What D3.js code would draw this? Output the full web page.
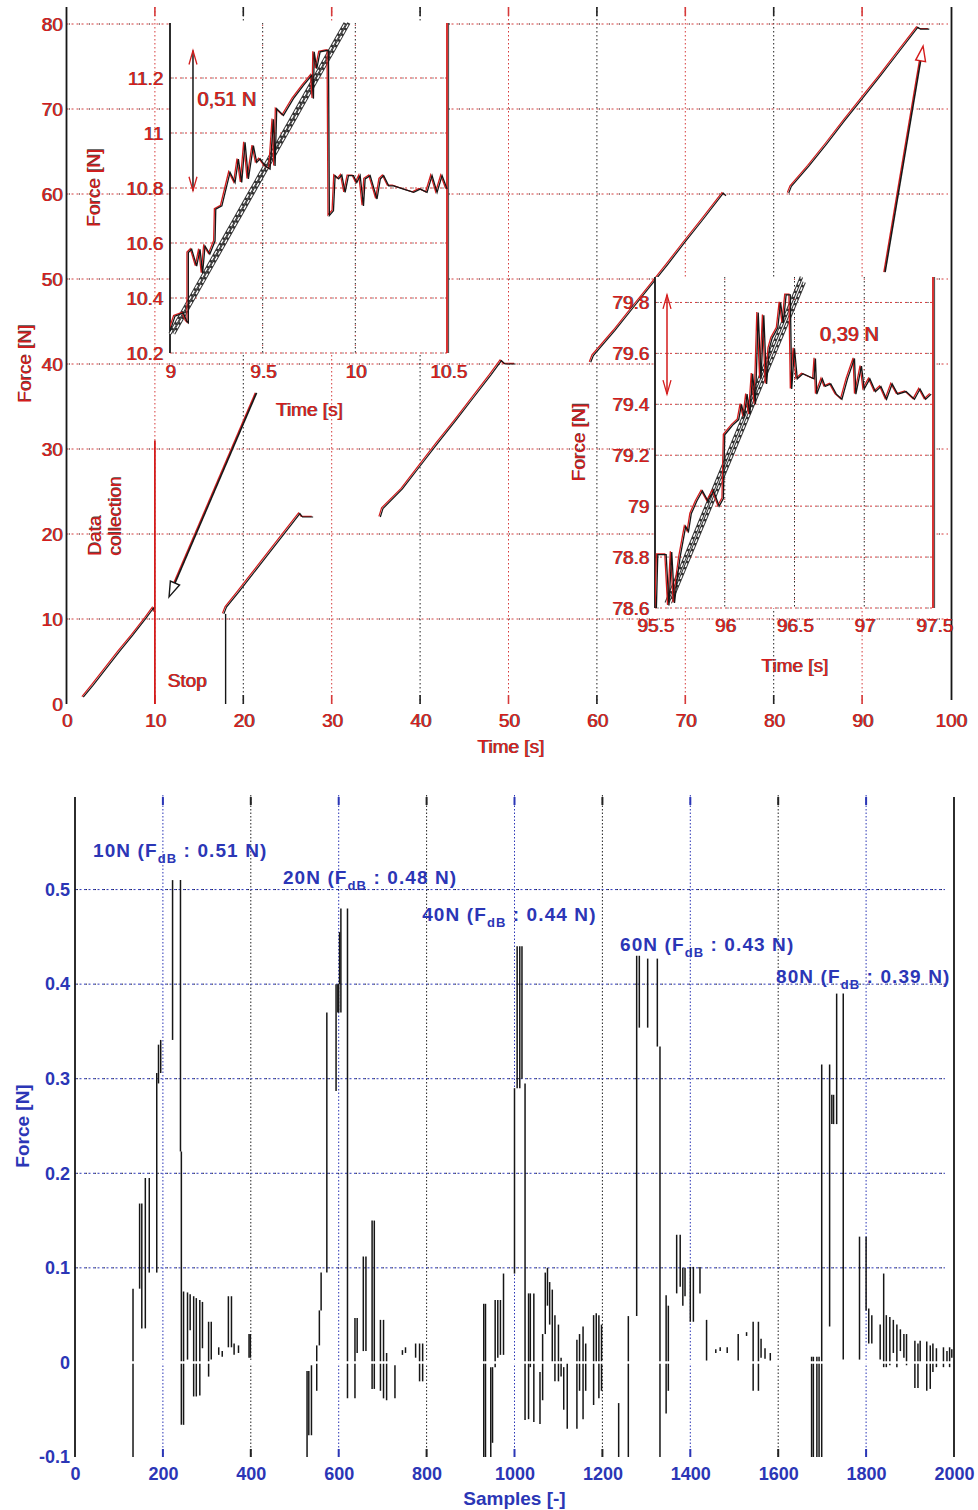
<!DOCTYPE html>
<html>
<head>
<meta charset="utf-8">
<script src="https://cdn.jsdelivr.net/npm/d3@7/dist/d3.min.js"></script>
<style>
  html, body { margin: 0; padding: 0; background: #fff; }
  svg text { font-family: "Liberation Sans", Arial, Helvetica, sans-serif; }
</style>
</head>
<body>
<svg id="fig" width="978" height="1510" xmlns="http://www.w3.org/2000/svg"></svg>
<script>
// ================= data: force ramps over time (upper panel) =================
const mainTimeTicks  = [0, 10, 20, 30, 40, 50, 60, 70, 80, 90, 100];
const mainForceTicks = [0, 10, 20, 30, 40, 50, 60, 70, 80];

const ramp10Time  = [1.9, 3.0, 4.5, 6.0, 7.5, 9.0, 9.85, 10.0];
const ramp10Force = [0.8, 2.2, 4.2, 6.2, 8.1, 10.1, 11.3, 10.8];
const ramp20Time  = [17.8, 18.1, 19.5, 21.0, 22.5, 24.0, 25.5, 26.4, 26.7, 27.9];
const ramp20Force = [10.6, 11.4, 13.2, 15.2, 17.2, 19.2, 21.2, 22.4, 22.0, 22.0];
const ramp40Time  = [35.5, 35.8, 38.0, 40.0, 42.0, 44.0, 46.0, 48.0, 49.2, 49.6, 50.8];
const ramp40Force = [22.0, 23.0, 25.3, 28.0, 30.7, 33.3, 36.0, 38.7, 40.4, 40.0, 40.0];
const ramp60Time  = [59.3, 59.6, 62.0, 64.0, 66.0, 68.0, 70.0, 72.0, 74.3, 74.6];
const ramp60Force = [40.2, 41.0, 43.9, 46.5, 49.1, 51.7, 54.4, 57.0, 60.1, 59.8];
const ramp80Time  = [81.7, 82.0, 84.0, 86.0, 88.0, 90.0, 92.0, 94.0, 96.3, 96.6, 97.6];
const ramp80Force = [60.1, 60.9, 63.3, 65.9, 68.6, 71.2, 73.8, 76.5, 79.6, 79.4, 79.4];

// zoomed 10 N step (t = 9 ... 10.5 s)
const zoom10TimeTicks  = [9, 9.5, 10, 10.5];
const zoom10ForceTicks = [10.2, 10.4, 10.6, 10.8, 11, 11.2];
const zoom10Time = [9.000, 9.018, 9.027, 9.072, 9.090, 9.099, 9.099, 9.117, 9.144, 9.162, 9.176, 9.189, 9.215,
  9.243, 9.247, 9.280, 9.324, 9.351, 9.369, 9.387, 9.405, 9.423, 9.450, 9.468, 9.486, 9.513, 9.540, 9.558, 9.567,
  9.576, 9.612, 9.666, 9.720, 9.765, 9.774, 9.778, 9.792, 9.810, 9.846, 9.855, 9.860, 9.882, 9.891, 9.910, 9.927,
  9.945, 9.963, 9.990, 10.008, 10.026, 10.044, 10.053, 10.080, 10.117, 10.135, 10.153, 10.180, 10.207, 10.260,
  10.315, 10.350, 10.387, 10.414, 10.441, 10.468, 10.495];
const zoom10Force = [10.280, 10.316, 10.334, 10.346, 10.316, 10.310, 10.565, 10.577, 10.516, 10.577, 10.490, 10.589, 10.560,
  10.607, 10.723, 10.735, 10.857, 10.820, 10.905, 10.820, 10.966, 10.833, 10.954, 10.893, 10.906, 10.881, 10.869, 11.050, 10.880,
  11.088, 11.064, 11.125, 11.173, 11.210, 11.125, 11.295, 11.234, 11.295, 11.300, 11.300, 10.700, 10.717, 10.845, 10.833, 10.847,
  10.784, 10.845, 10.845, 10.820, 10.845, 10.735, 10.833, 10.845, 10.760, 10.833, 10.845, 10.808, 10.808, 10.796,
  10.784, 10.796, 10.784, 10.845, 10.784, 10.845, 10.796];
const fit10Time   = [9.00, 9.945];
const fit10ForceA = [10.27, 11.40];
const fit10TimeB  = [9.02, 9.965];
const fit10ForceB = [10.27, 11.40];
const band10 = [10.79, 11.30];   // 0,51 N

// zoomed 80 N step (t = 95.5 ... 97.5 s)
const zoom80TimeTicks  = [95.5, 96, 96.5, 97, 97.5];
const zoom80ForceTicks = [78.6, 78.8, 79, 79.2, 79.4, 79.6, 79.8];
const zoom80Time = [95.51, 95.52, 95.58, 95.60, 95.62, 95.64, 95.66, 95.68, 95.70, 95.72, 95.74, 95.76, 95.80, 95.84,
  95.88, 95.92, 95.96, 95.99, 96.00, 96.03, 96.06, 96.10, 96.12, 96.14, 96.16, 96.18, 96.20, 96.22, 96.24, 96.26,
  96.28, 96.30, 96.32, 96.34, 96.38, 96.40, 96.42, 96.44, 96.47, 96.48, 96.50, 96.52, 96.56, 96.64, 96.65, 96.66,
  96.70, 96.72, 96.76, 96.80, 96.84, 96.88, 96.93, 96.94, 96.98, 97.00, 97.04, 97.08, 97.12, 97.16, 97.20, 97.24,
  97.30, 97.36, 97.40, 97.44, 97.48];
const zoom80Force = [78.60, 78.81, 78.81, 78.61, 78.82, 78.62, 78.72, 78.80, 78.86, 78.92, 78.90, 78.97, 79.02, 79.06,
  79.02, 79.06, 79.00, 79.03, 79.28, 79.30, 79.32, 79.34, 79.40, 79.35, 79.44, 79.36, 79.52, 79.40, 79.76, 79.50,
  79.75, 79.48, 79.62, 79.66, 79.70, 79.80, 79.72, 79.83, 79.83, 79.46, 79.62, 79.50, 79.52, 79.50, 79.58, 79.44,
  79.50, 79.47, 79.48, 79.44, 79.42, 79.50, 79.58, 79.44, 79.55, 79.46, 79.50, 79.45, 79.47, 79.42, 79.48, 79.44,
  79.45, 79.42, 79.46, 79.42, 79.44];
const fit80Time   = [95.58, 96.55];
const fit80ForceA = [78.62, 79.90];
const fit80TimeB  = [95.61, 96.57];
const fit80ForceB = [78.62, 79.88];
const band80 = [79.44, 79.83];   // 0,39 N

// ================= data: deviation per sample (lower panel) =================
const sampleTicks    = [0, 200, 400, 600, 800, 1000, 1200, 1400, 1600, 1800, 2000];
const deviationTicks = [-0.1, 0, 0.1, 0.2, 0.3, 0.4, 0.5];
const deadbandLoads  = ["10N", "20N", "40N", "60N", "80N"];
const deadbandWidths = [0.51, 0.48, 0.44, 0.43, 0.39];

// each entry: [sample, low, high]
const strokes10N = [[132,-0.13,0.078],[147,0.078,0.168],[152,0.036,0.168],[160,0.036,0.195],[169,0.095,0.195],
  [186,0.095,0.306],[190,0.295,0.336],[195,0.306,0.341],[222,0.341,0.51],[240,0.223,0.51],[242,-0.066,0.223],
  [247,-0.066,0.075],[256,0.003,0.074],[262,0.034,0.072],[270,-0.036,0.070],[276,-0.036,0.068],[284,-0.035,0.066],
  [290,0.015,0.064],[304,-0.015,0.043],[310,0.003,0.043],[327,0.008,0.016],[335,0.006,0.012],[349,0.016,0.070],
  [356,0.016,0.070],[362,0.008,0.020],[372,0.010,0.018],[396,0.005,0.030],[399,0.005,0.030]];
const strokes20N = [[528,-0.13,-0.009],[532,-0.077,-0.009],[538,-0.077,-0.003],[550,-0.030,0.018],[556,0.018,0.055],
  [560,0.055,0.095],[573,0.095,0.370],[594,0.287,0.400],[598,0.370,0.400],[600,0.370,0.400],[602,0.400,0.455],
  [605,0.370,0.48],[620,-0.038,0.48],[637,-0.038,0.047],[642,0.010,0.047],[656,0.012,0.112],[662,0.012,0.112],
  [676,-0.028,0.150],[681,-0.028,0.150],[695,-0.030,0.045],[702,-0.038,0.045],[709,-0.040,0.010],[728,-0.038,-0.003],
  [745,0.008,0.013],[752,0.010,0.016],[775,0.005,0.020],[784,-0.020,0.020],[791,-0.020,0.020]];
const strokes40N = [[930,-0.13,0.062],[934,-0.13,0.062],[946,-0.13,-0.005],[950,-0.085,-0.005],[956,-0.005,0.066],
  [962,0.005,0.066],[968,0.008,0.066],[975,0.008,0.094],[1000,0.094,0.290],[1006,0.290,0.44],[1012,0.290,0.44],
  [1017,0.300,0.44],[1024,-0.061,0.295],[1032,-0.060,0.073],[1036,-0.005,0.073],[1044,-0.063,0.073],
  [1058,-0.065,-0.010],[1064,-0.040,0.030],[1070,0.030,0.095],[1075,0.060,0.100],[1080,0.040,0.085],
  [1086,0.000,0.077],[1092,-0.020,0.050],[1100,-0.020,0.040],[1106,-0.015,0.005],[1112,-0.050,-0.005],
  [1120,-0.070,0.000],[1142,-0.070,0.024],[1148,-0.030,0.030],[1156,-0.060,0.038],[1162,-0.030,0.020],
  [1180,-0.045,0.050],[1186,0.000,0.052],[1192,-0.038,0.050],[1198,-0.030,0.040]];
const strokes60N = [[1237,-0.13,-0.043],[1259,-0.13,0.049],[1278,0.049,0.43],[1284,0.354,0.43],[1303,0.354,0.427],
  [1325,0.334,0.427],[1331,-0.13,0.334],[1345,-0.054,0.071],[1350,-0.030,0.060],[1369,0.073,0.135],
  [1377,0.080,0.135],[1383,0.060,0.100],[1388,0.070,0.100],[1400,0.043,0.101],[1407,0.043,0.101],
  [1422,0.073,0.101],[1437,0.002,0.045],[1458,0.010,0.014],[1468,0.012,0.016],[1484,0.010,0.016],
  [1509,0.002,0.030],[1528,0.028,0.032],[1543,-0.030,0.043],[1555,-0.030,0.043],[1561,0.005,0.025],
  [1570,0.004,0.015],[1582,0.002,0.010]];
const strokes80N = [[1676,-0.13,0.006],[1680,-0.13,0.006],[1688,-0.13,0.006],[1693,-0.13,0.006],[1699,-0.13,0.315],
  [1717,0.038,0.315],[1722,0.252,0.283],[1726,0.252,0.283],[1733,0.252,0.39],[1748,0.003,0.39],[1785,0.003,0.133],
  [1800,0.055,0.133],[1806,0.020,0.057],[1813,0.020,0.050],[1832,0.003,0.040],[1840,-0.005,0.094],
  [1846,-0.005,0.050],[1854,-0.003,0.048],[1862,0.010,0.045],[1870,-0.005,0.040],[1878,0.012,0.035],
  [1886,0.005,0.030],[1892,-0.003,0.030],[1911,-0.027,0.023],[1918,-0.027,0.020],[1923,0.000,0.023],
  [1938,-0.030,0.022],[1946,-0.028,0.018],[1952,-0.010,0.020],[1960,-0.005,0.015],[1976,-0.005,0.016],
  [1984,0.000,0.012],[1990,-0.005,0.016],[1995,0.005,0.014]];

// ================= drawing =================
const RED = "#d41c1c", INK = "#161616", BLUE = "#2b36b6", GRIDRED = "#d63a3a";
const FONT = '"Liberation Sans", Arial, Helvetica, sans-serif';
const svg = d3.select("#fig");
const defs = svg.append("defs");

function clipRect(id, x0, y0, x1, y1) {
  defs.append("clipPath").attr("id", id).append("rect")
    .attr("x", x0).attr("y", y0).attr("width", x1 - x0).attr("height", y1 - y0);
  return `url(#${id})`;
}
function seg(parent, x1, y1, x2, y2, color, w, dash) {
  const l = parent.append("line").attr("x1", x1).attr("y1", y1).attr("x2", x2).attr("y2", y2)
    .attr("stroke", color).attr("stroke-width", w);
  if (dash) l.attr("stroke-dasharray", dash);
  return l;
}
// red/black speckled dotted rule
function mixedRule(parent, x1, y1, x2, y2) {
  seg(parent, x1, y1, x2, y2, GRIDRED, 1, "2,3");
  seg(parent, x1, y1, x2, y2, INK, 1, "1,9").attr("stroke-dashoffset", -2.5);
}
// red glyphs with a dark ghost beside them
function fringeText(parent, x, y, str, opt = {}) {
  const g = parent.append("g")
    .attr("transform", `translate(${x},${y})` + (opt.rotate ? ` rotate(${opt.rotate})` : ""));
  [[INK, 0.9, 0.8], [opt.color || RED, 0, 1]].forEach(([c, dx, op]) => {
    g.append("text").attr("x", dx).attr("y", 0)
      .attr("fill", c).attr("fill-opacity", op)
      .attr("font-size", opt.size || 19)
      .attr("text-anchor", opt.anchor || "start")
      .text(str);
  });
  return g;
}
function fringePath(parent, d, w = 1.3, clip) {
  const g = parent.append("g");
  if (clip) g.attr("clip-path", clip);
  g.append("path").attr("d", d).attr("fill", "none").attr("stroke", RED).attr("stroke-width", w)
    .attr("transform", "translate(-1.4,-0.6)");
  g.append("path").attr("d", d).attr("fill", "none").attr("stroke", INK).attr("stroke-width", w);
  return g;
}
function fringeAxis(parent, axis, tx, ty, size, color) {
  [[INK, 0.9, 0.8], [color || RED, 0, 1]].forEach(([c, dx, op]) => {
    const g = parent.append("g").attr("transform", `translate(${tx + dx},${ty})`).call(axis);
    g.attr("font-family", null).attr("font-size", null);
    g.select(".domain").remove();
    g.selectAll(".tick line").remove();
    g.selectAll("text").attr("fill", c).attr("fill-opacity", op)
      .attr("font-size", size).style("font-family", FONT);
  });
}
const fmt = d => String(+d.toFixed(2));
const zip = (a, b) => a.map((v, i) => [v, b[i]]);

// ---------------- upper panel ----------------
const topG = svg.append("g");
const mx = d3.scaleLinear().domain([0, 100]).range([66.5, 950.5]);
const my = d3.scaleLinear().domain([0, 82]).range([704, 7]);

// vertical grid (alternating red / black) and inward ticks
mainTimeTicks.slice(1, -1).forEach(t => {
  const c = (t / 10) % 2 ? GRIDRED : "#222";
  seg(topG, mx(t), my(82), mx(t), my(0), c, 1, "1.5,2.5");
  seg(topG, mx(t), my(82), mx(t), my(82) + 9, c, 1.6);
  seg(topG, mx(t), my(0) - 9, mx(t), my(0), c, 1.6);
});
mainForceTicks.slice(1).forEach(f => mixedRule(topG, mx(0), my(f), 948, my(f)));

seg(topG, mx(0), my(82), mx(0), my(0), INK, 1.8);
seg(topG, mx(100) + 1, my(82), mx(100) + 1, my(0) - 4, INK, 1.8);

const mline = d3.line().x(d => mx(d[0])).y(d => my(d[1]));
const mainClip = clipRect("mainClip", mx(0), my(82), mx(100), my(0));
[[ramp10Time, ramp10Force], [ramp20Time, ramp20Force], [ramp40Time, ramp40Force],
 [ramp60Time, ramp60Force], [ramp80Time, ramp80Force]].forEach(([t, f]) => {
  fringePath(topG, mline(zip(t, f)), 1.2, mainClip);
});

// data-collection marker and stop marker
seg(topG, mx(10), my(0), mx(10), my(31), RED, 1.8);
seg(topG, mx(18), my(0), mx(18), my(10.6), INK, 1.4);

// pointer arrows toward the zoomed views
function openArrow(parent, from, to, headColor) {
  const x1 = mx(from[0]), y1 = my(from[1]), x2 = mx(to[0]), y2 = my(to[1]);
  const a = Math.atan2(y2 - y1, x2 - x1), L = 15, Wd = 5;
  const bx = x2 - L * Math.cos(a), by = y2 - L * Math.sin(a);
  seg(parent, x1 - 1.2, y1, bx - 1.2, by, RED, 1.4);
  seg(parent, x1, y1, bx, by, INK, 1.6);
  const pts = [[x2, y2], [bx + Wd * Math.sin(a), by - Wd * Math.cos(a)], [bx - Wd * Math.sin(a), by + Wd * Math.cos(a)]];
  parent.append("polygon").attr("points", pts.map(p => p.join(",")).join(" "))
    .attr("fill", "#fff").attr("stroke", headColor).attr("stroke-width", 1.4);
}
openArrow(topG, [21.5, 36.6], [11.6, 12.6], INK);
openArrow(topG, [92.6, 50.8], [96.9, 77.4], RED);

// ---------------- zoomed views ----------------
function drawInset(cfg) {
  const g = svg.append("g");
  const x = d3.scaleLinear().domain(cfg.xDomain).range(cfg.xRange);
  const y = d3.scaleLinear().domain(cfg.yDomain).range(cfg.yRange);
  const [x0, x1] = cfg.xRange, [yb, yt] = cfg.yRange;
  g.append("rect").attr("x", x0).attr("y", yt).attr("width", x1 - x0).attr("height", yb - yt).attr("fill", "#fff");
  cfg.yTicks.forEach(v => mixedRule(g, x0, y(v), x1, y(v)));
  cfg.xTicks.slice(1, -1).forEach(v => {
    seg(g, x(v), yt, x(v), yb, "#222", 1, "1.5,2.5");
    seg(g, x(v), yt, x(v), yb, GRIDRED, 1, "1,9").attr("stroke-dashoffset", -2);
  });
  seg(g, x0, yt, x0, yb, INK, 1.8);
  seg(g, x1 - 1, yt, x1 - 1, yb, RED, 1.8);
  seg(g, x1 + 0.6, yt, x1 + 0.6, yb, INK, 0.8);

  const clip = clipRect(cfg.id, x0, yt - 2, x1, yb);
  const line = d3.line().x(d => x(d[0])).y(d => y(d[1]));
  // straight guide lines: dark outline with white dashes
  cfg.fits.forEach(([ft, ff]) => {
    const d = line(zip(ft, ff));
    g.append("path").attr("d", d).attr("stroke", "#333").attr("stroke-width", 3.4).attr("fill", "none");
    g.append("path").attr("d", d).attr("stroke", "#fff").attr("stroke-width", 1.4).attr("fill", "none")
      .attr("stroke-dasharray", "4,2.5");
  });
  fringePath(g, line(zip(cfg.time, cfg.force)), 1.3, clip);

  // deadband span arrow
  const ax = x(cfg.bandAt), ylo = y(cfg.band[0]), yhi = y(cfg.band[1]);
  seg(g, ax, yhi, ax, ylo, cfg.bandColor, 1.5);
  const chev = (yy, s) => g.append("polyline")
    .attr("points", `${ax - 4},${yy + s * 14} ${ax},${yy} ${ax + 4},${yy + s * 14}`)
    .attr("fill", "none").attr("stroke", RED).attr("stroke-width", 1.3);
  chev(yhi, 1); chev(ylo, -1);
  fringeText(g, x(cfg.noteAt[0]), y(cfg.noteAt[1]), cfg.note, { size: 20 });

  fringeAxis(g, d3.axisBottom(x).tickValues(cfg.xTicks).tickFormat(fmt).tickSize(0).tickPadding(cfg.xPad), 0, yb, 19);
  fringeAxis(g, d3.axisLeft(y).tickValues(cfg.yTicks).tickFormat(fmt).tickSize(0).tickPadding(cfg.yPad), x0, 0, 19);
  fringeText(g, (x0 + x1) / 2, cfg.xLabelY, "Time [s]", { anchor: "middle" });
  fringeText(g, x0 - 70, (yt + yb) / 2, "Force [N]", { anchor: "middle", rotate: -90 });
}

drawInset({
  id: "z10", xDomain: [9, 10.5], xRange: [170, 448], yDomain: [10.2, 11.4], yRange: [353, 23],
  xTicks: zoom10TimeTicks, yTicks: zoom10ForceTicks, time: zoom10Time, force: zoom10Force,
  fits: [[fit10Time, fit10ForceA], [fit10TimeB, fit10ForceB]],
  band: band10, bandAt: 9.124, bandColor: INK, note: "0,51 N", noteAt: [9.146, 11.10],
  xPad: 12, yPad: 7, xLabelY: 416
});
drawInset({
  id: "z80", xDomain: [95.5, 97.5], xRange: [655, 934], yDomain: [78.6, 79.9], yRange: [608, 277],
  xTicks: zoom80TimeTicks, yTicks: zoom80ForceTicks, time: zoom80Time, force: zoom80Force,
  fits: [[fit80Time, fit80ForceA], [fit80TimeB, fit80ForceB]],
  band: band80, bandAt: 95.586, bandColor: RED, note: "0,39 N", noteAt: [96.68, 79.65],
  xPad: 11, yPad: 6, xLabelY: 672
});

// upper panel labels
fringeAxis(topG, d3.axisBottom(mx).tickValues(mainTimeTicks).tickSize(0).tickPadding(10), 0, my(0), 19);
fringeAxis(topG, d3.axisLeft(my).tickValues(mainForceTicks).tickSize(0).tickPadding(4), mx(0), 0, 19);
fringeText(topG, (mx(0) + mx(100)) / 2 + 2, 753, "Time [s]", { anchor: "middle" });
fringeText(topG, 31, (my(0) + my(80)) / 2, "Force [N]", { anchor: "middle", rotate: -90 });
fringeText(topG, mx(11.4), my(2.0), "Stop");
fringeText(topG, 101, 556, "Data", { rotate: -90 });
fringeText(topG, 121, 556, "collection", { rotate: -90 });

// ---------------- lower panel ----------------
const botG = svg.append("g");
const bx = d3.scaleLinear().domain([0, 2000]).range([75, 954]);
const by = d3.scaleLinear().domain([-0.1, 0.6]).range([1457, 795]);

sampleTicks.slice(1, -1).forEach(s => {
  const c = (s / 200) % 2 ? BLUE : "#222";
  seg(botG, bx(s), by(0.6), bx(s), by(-0.1), c, 1, "1.5,2");
  seg(botG, bx(s), by(0.6) + 2, bx(s), by(0.6) + 10, c, 2);
  seg(botG, bx(s), by(-0.1) - 8, bx(s), by(-0.1), c, 2);
});
deviationTicks.filter(v => v > 0.05).forEach(v => {
  seg(botG, bx(0), by(v), 945, by(v), BLUE, 1, "2,2.5");
  seg(botG, bx(0), by(v), 945, by(v), "#222", 1, "1,8").attr("stroke-dashoffset", -2);
});
seg(botG, bx(0), by(0.6) + 2, bx(0), by(-0.1), INK, 1.8);
seg(botG, bx(2000), by(0.6) + 2, bx(2000), by(-0.1), INK, 1.8);

const botClip = clipRect("botClip", bx(0), by(0.6), bx(2000), by(-0.1));
const strokeG = botG.append("g").attr("clip-path", botClip);
strokeG.selectAll("line")
  .data([].concat(strokes10N, strokes20N, strokes40N, strokes60N, strokes80N))
  .join("line")
  .attr("x1", d => bx(d[0])).attr("x2", d => bx(d[0]))
  .attr("y1", d => by(d[1])).attr("y2", d => by(d[2]))
  .attr("stroke", INK).attr("stroke-width", 1.5);
// zero level kept clear
seg(botG, bx(0) + 2, by(0), bx(2000) - 2, by(0), "#fff", 2.4);

function blueAxis(axis, tx, ty) {
  const g = botG.append("g").attr("transform", `translate(${tx},${ty})`).call(axis);
  g.attr("font-family", null).attr("font-size", null);
  g.select(".domain").remove();
  g.selectAll(".tick line").remove();
  g.selectAll("text").attr("fill", BLUE).attr("font-size", 18).attr("font-weight", "bold").style("font-family", FONT);
}
blueAxis(d3.axisBottom(bx).tickValues(sampleTicks).tickFormat(String).tickSize(0).tickPadding(10), 0, by(-0.1));
blueAxis(d3.axisLeft(by).tickValues(deviationTicks).tickFormat(fmt).tickSize(0).tickPadding(5), bx(0), 0);

botG.append("text").attr("x", (bx(0) + bx(2000)) / 2).attr("y", 1505).attr("text-anchor", "middle")
  .attr("fill", BLUE).attr("font-size", 19).attr("font-weight", "bold").text("Samples [-]");
botG.append("text").attr("transform", `translate(29,${(by(0.6) + by(-0.1)) / 2}) rotate(-90)`)
  .attr("text-anchor", "middle").attr("fill", BLUE).attr("font-size", 19).attr("font-weight", "bold").text("Force [N]");

// deadband annotations
const annotAt = [[41, 0.534], [473, 0.506], [790, 0.467], [1240, 0.435], [1595, 0.401]];
deadbandLoads.forEach((load, i) => {
  const t = botG.append("text").attr("x", bx(annotAt[i][0])).attr("y", by(annotAt[i][1]))
    .attr("fill", BLUE).attr("font-size", 19).attr("font-weight", "bold").attr("letter-spacing", 1.1);
  t.append("tspan").text(`${load} (F`);
  t.append("tspan").attr("dy", 6).attr("font-size", 13).text("dB");
  t.append("tspan").attr("dy", -6).text(` : ${deadbandWidths[i].toFixed(2)} N)`);
});
</script>
</body>
</html>
